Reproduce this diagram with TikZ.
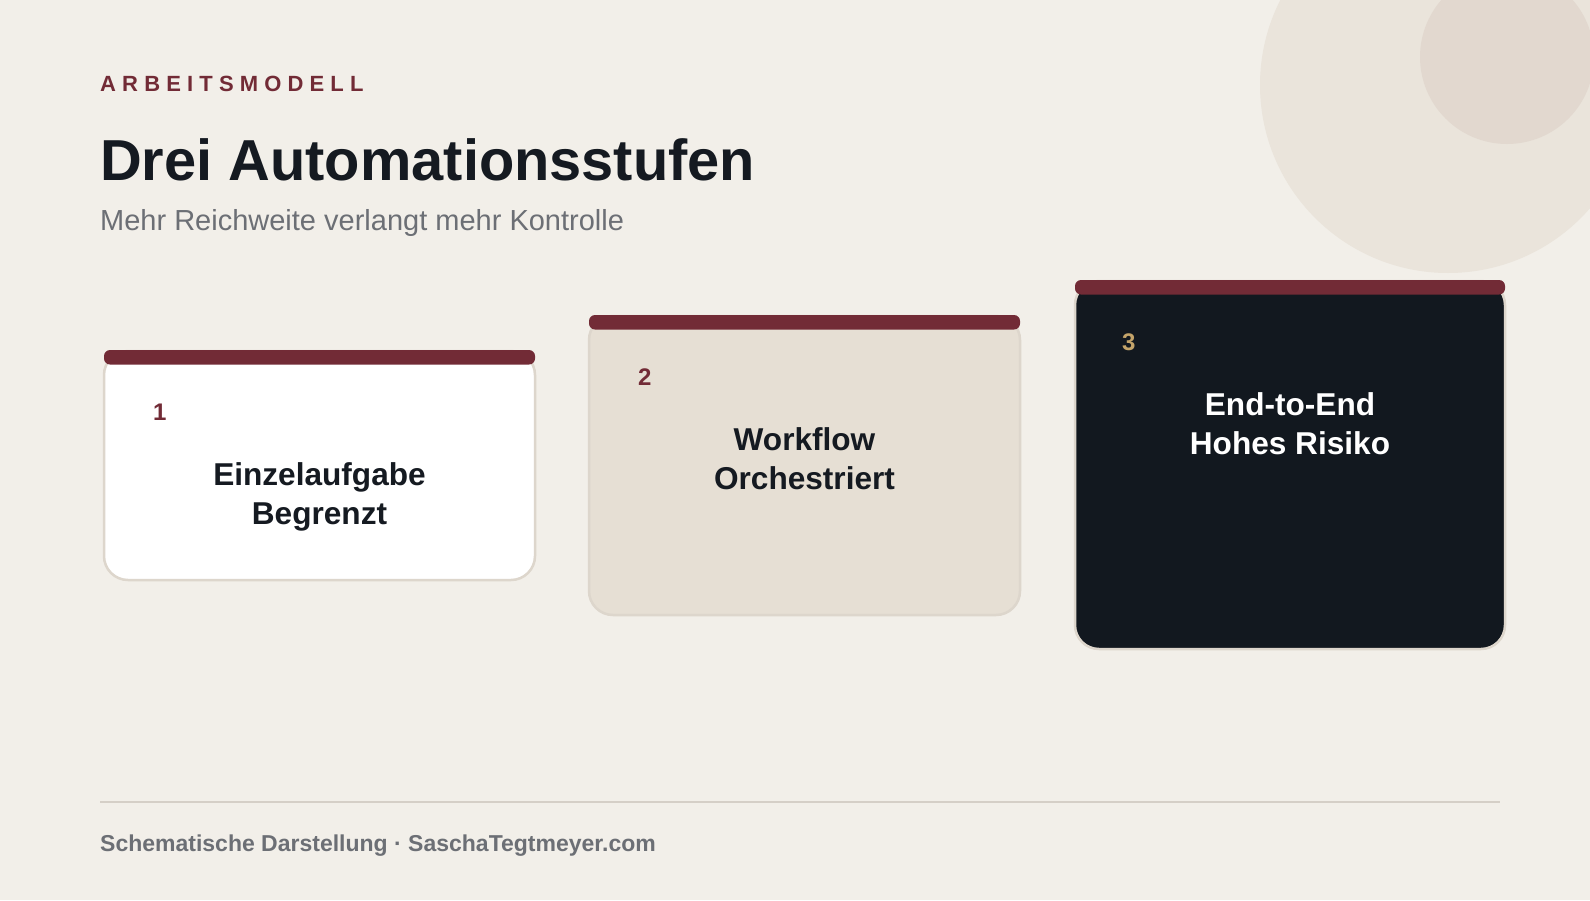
\documentclass[tikz,border=0pt]{standalone}
\usepackage{fontspec}
\setmainfont{Liberation Sans}
\definecolor{bg}{HTML}{F2EFE9}
\definecolor{circA}{HTML}{EAE4DB}
\definecolor{circB}{HTML}{E2D8CF}
\definecolor{maroon}{HTML}{722B36}
\definecolor{darkcard}{HTML}{12181F}
\definecolor{beigecard}{HTML}{E6DFD4}
\definecolor{cardline}{HTML}{DDD6CC}
\definecolor{gold}{HTML}{C4A46A}
\definecolor{ink}{HTML}{151A21}
\definecolor{graytxt}{HTML}{6C6F75}
\definecolor{rule}{HTML}{D5CFC7}
\begin{document}
\begin{tikzpicture}[x=1pt,y=-1pt,
  card/.style={draw=cardline, line width=2.5pt, rounded corners=24pt},
  bar/.style={fill=maroon, rounded corners=6pt},
  num/.style={anchor=base west, inner sep=0pt, font=\fontsize{24}{28}\selectfont\bfseries},
  lbl/.style={align=center, inner sep=0pt, font=\fontsize{31.6}{38.5}\selectfont\bfseries}]
\fill[bg] (0,0) rectangle (1590,900);
\useasboundingbox (0,0) rectangle (1590,900);
\begin{scope}
\clip (0,0) rectangle (1590,900);
\fill[circA] (1448,85) circle (188pt);
\fill[circB] (1507,57) circle (87pt);
\end{scope}

% header
\node[anchor=base west, inner sep=0pt, text=maroon, font=\fontsize{22}{26}\selectfont\bfseries\addfontfeatures{LetterSpace=28}] (kicker) at (100,91) {ARBEITSMODELL};
\node[anchor=base west, inner sep=0pt, text=ink, font=\fontsize{57.8}{66}\selectfont\bfseries] (title) at (100,180) {Drei Automationsstufen};
\node[anchor=base west, inner sep=0pt, text=graytxt, font=\fontsize{29}{34}\selectfont] (subtitle) at (100,230) {Mehr Reichweite verlangt mehr Kontrolle};

% card 1
\draw[card, fill=white] (104,351) rectangle (535,580);
\fill[bar] (104,350) rectangle (535,364.5);
\node[num, text=maroon] (n1) at (153,420) {1};
\node[lbl, text=ink] (t1) at (319.5,497.5) {\strut Einzelaufgabe\\\strut Begrenzt};

% card 2
\draw[card, fill=beigecard] (589,316) rectangle (1020,615);
\fill[bar] (589,315) rectangle (1020,329.5);
\node[num, text=maroon] (n2) at (638,385) {2};
\node[lbl, text=ink] (t2) at (804.5,462.5) {\strut Workflow\\\strut Orchestriert};

% card 3
\draw[card, fill=darkcard] (1075,281) rectangle (1505,649);
\fill[bar] (1075,280) rectangle (1505,294.5);
\node[num, text=gold] (n3) at (1122,350) {3};
\node[lbl, text=white] (t3) at (1290,427.5) {\strut End-to-End\\\strut Hohes Risiko};

% footer
\coordinate (rl) at (100,802);
\coordinate (rr) at (1500,802);
\draw[rule, line width=1.5pt] (rl) -- (rr);
\node[anchor=base west, inner sep=0pt, text=graytxt, font=\fontsize{23}{27}\selectfont\bfseries] (footer) at (100,851) {Schematische Darstellung · SaschaTegtmeyer.com};
\end{tikzpicture}
\end{document}
